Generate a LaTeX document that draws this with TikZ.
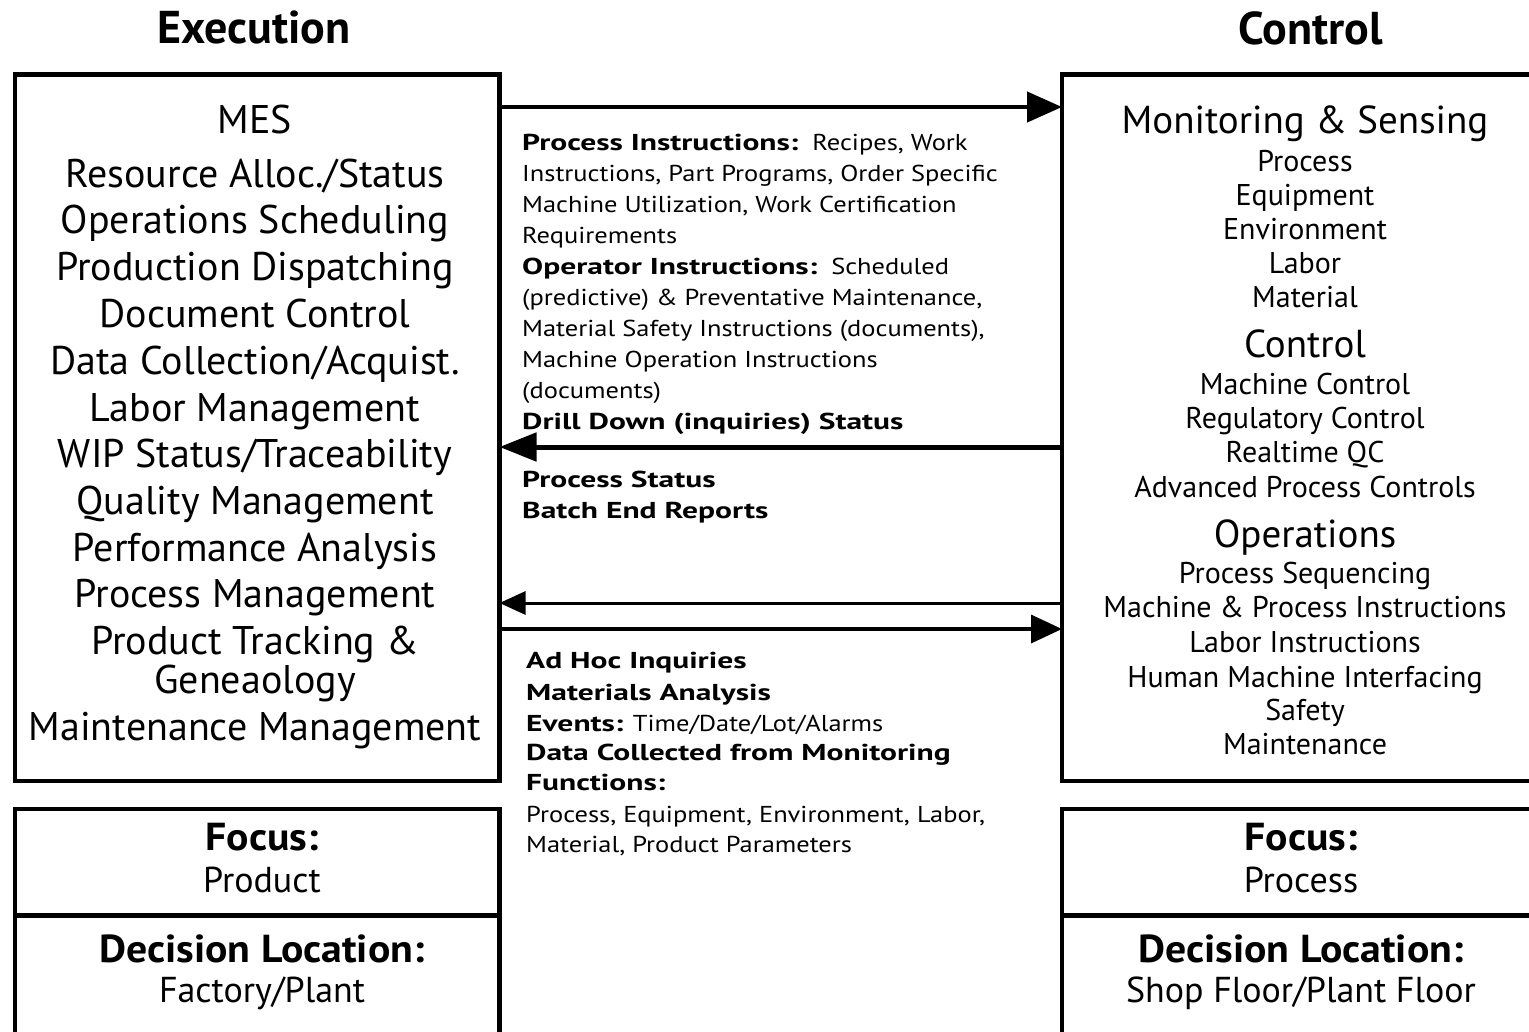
\documentclass[tikz,border=0pt]{standalone}
\usepackage{fontspec}
\setmainfont{PT Sans}
\newfontfamily\midrm{PT Sans}[FakeStretch=1.15]
\newfontfamily\midbf{PT Sans}[FakeStretch=1.37]
\newfontfamily\botbf{PT Sans}[FakeStretch=1.07]
\usetikzlibrary{arrows.meta}
\newcommand\mbf[1]{{\midbf\bfseries #1}}
\begin{document}
\begin{tikzpicture}[x=1pt,y=-1pt,
  box/.style={draw, line width=4.5pt, inner sep=0pt, outer sep=0pt},
  ttl/.style={font=\bfseries\fontsize{46}{52}\selectfont, anchor=base, inner sep=0pt},
  lt/.style={font=\fontsize{40}{46}\selectfont, anchor=base, inner sep=0pt},
  rh/.style={font=\fontsize{39}{44}\selectfont, anchor=base, inner sep=0pt},
  rs/.style={font=\fontsize{30}{34}\selectfont, anchor=base, inner sep=0pt},
  mt/.style={font=\midrm\fontsize{23}{31}\selectfont, anchor=base west, inner sep=0pt},
  bb/.style={font=\botbf\bfseries\fontsize{39}{44}\selectfont, anchor=base, inner sep=0pt},
  br/.style={font=\fontsize{36}{42}\selectfont, anchor=base, inner sep=0pt},
]
\useasboundingbox (0,0) rectangle (1529,1031);
\clip (0,0) rectangle (1529,1031);
% titles
\node[ttl] (tE) at (254,43) {Execution};
\node[ttl] (tC) at (1311,44) {Control};
% main boxes
\node[box, minimum width=484.5pt, minimum height=706.5pt] (exec) at (257.25,427.75) {};
\node[box, minimum width=538pt, minimum height=706.5pt] (ctrl) at (1331,427.75) {};
% bottom boxes
\node[box, minimum width=484.5pt, minimum height=106.5pt] (focL) at (257.25,862.25) {};
\node[box, minimum width=484.5pt, minimum height=134.5pt] (decL) at (257.25,982.75) {};
\node[box, minimum width=538pt, minimum height=106.5pt] (focR) at (1331,862.25) {};
\node[box, minimum width=538pt, minimum height=134.5pt] (decR) at (1331,982.75) {};
% arrows
\coordinate (y1) at (0,107);
\coordinate (y2) at (0,447);
\coordinate (y3) at (0,603);
\coordinate (y4) at (0,629);
\draw[line width=4.5pt, -{Triangle[length=35pt,width=30pt]}] (exec.east |- y1) -- (ctrl.west |- y1);
\draw[line width=5pt, -{Triangle[length=37pt,width=28pt]}] (ctrl.west |- y2) -- (exec.east |- y2);
\draw[line width=3pt, -{Triangle[length=26pt,width=23pt]}] (ctrl.west |- y3) -- (exec.east |- y3);
\draw[line width=3.5pt, -{Triangle[length=31pt,width=28pt]}] (exec.east |- y4) -- (ctrl.west |- y4);
% left box text
\foreach \yy/\tt [count=\i] in {133/{MES}, 187/{Resource Alloc./Status}, 233/{Operations Scheduling},
  280/{Production Dispatching}, 327/{Document Control}, 374/{Data Collection/Acquist.},
  421/{Labor Management}, 467/{WIP Status/Traceability}, 514/{Quality Management},
  561/{Performance Analysis}, 607/{Process Management}, 654/{Product Tracking \&},
  693/{Geneaology}, 740/{Maintenance Management}}
  \node[lt] (L\i) at (255,\yy) {\tt};
% right box headings
\node[rh] (h1) at (1305,133) {Monitoring \& Sensing};
\node[rh] (h2) at (1305,357) {Control};
\node[rh] (h3) at (1305,547) {Operations};
\foreach \yy/\tt [count=\i] in {171/{Process}, 205/{Equipment}, 239/{Environment}, 273/{Labor},
  307/{Material}, 394/{Machine Control}, 428/{Regulatory Control}, 462/{Realtime QC},
  497/{Advanced Process Controls}, 583/{Process Sequencing}, 617/{Machine \& Process Instructions},
  652/{Labor Instructions}, 687/{Human Machine Interfacing}, 720/{Safety}, 754/{Maintenance}}
  \node[rs] (R\i) at (1305,\yy) {\tt};
% middle text, upper
\foreach \yy/\tt [count=\i] in {
  150/{\mbf{Process Instructions:}\hspace{14pt}Recipes, Work},
  181/{Instructions, Part Programs, Order Specific},
  212/{Machine Utilization, Work Certification},
  243/{Requirements},
  274/{\mbf{Operator Instructions:}\hspace{14pt}Scheduled},
  305/{(predictive) \& Preventative Maintenance,},
  336/{Material Safety Instructions (documents),},
  367/{Machine Operation Instructions},
  398/{(documents)},
  429/{\mbf{Drill Down (inquiries) Status}},
  487/{\mbf{Process Status}},
  518/{\mbf{Batch End Reports}}}
  \node[mt] (M\i) at (522,\yy) {\tt};
% middle text, lower
\foreach \yy/\tt [count=\i] in {
  668/{\mbf{Ad Hoc Inquiries}},
  700/{\mbf{Materials Analysis}},
  731/{\mbf{Events:} Time/Date/Lot/Alarms},
  760/{\mbf{Data Collected from Monitoring}},
  790/{\mbf{Functions:}},
  822/{Process, Equipment, Environment, Labor,},
  852/{Material, Product Parameters}}
  \node[mt] (N\i) at (526,\yy) {\tt};
% bottom texts
\node[bb] (fl) at (262,850) {Focus:};
\node[br] (fl2) at (262,892) {Product};
\node[bb] (dl) at (262,962) {Decision Location:};
\node[br] (dl2) at (262,1002) {Factory/Plant};
\node[bb] (fr) at (1301,850) {Focus:};
\node[br] (fr2) at (1301,892) {Process};
\node[bb] (dr) at (1301,962) {Decision Location:};
\node[br] (dr2) at (1301,1002) {Shop Floor/Plant Floor};
\end{tikzpicture}
\end{document}
